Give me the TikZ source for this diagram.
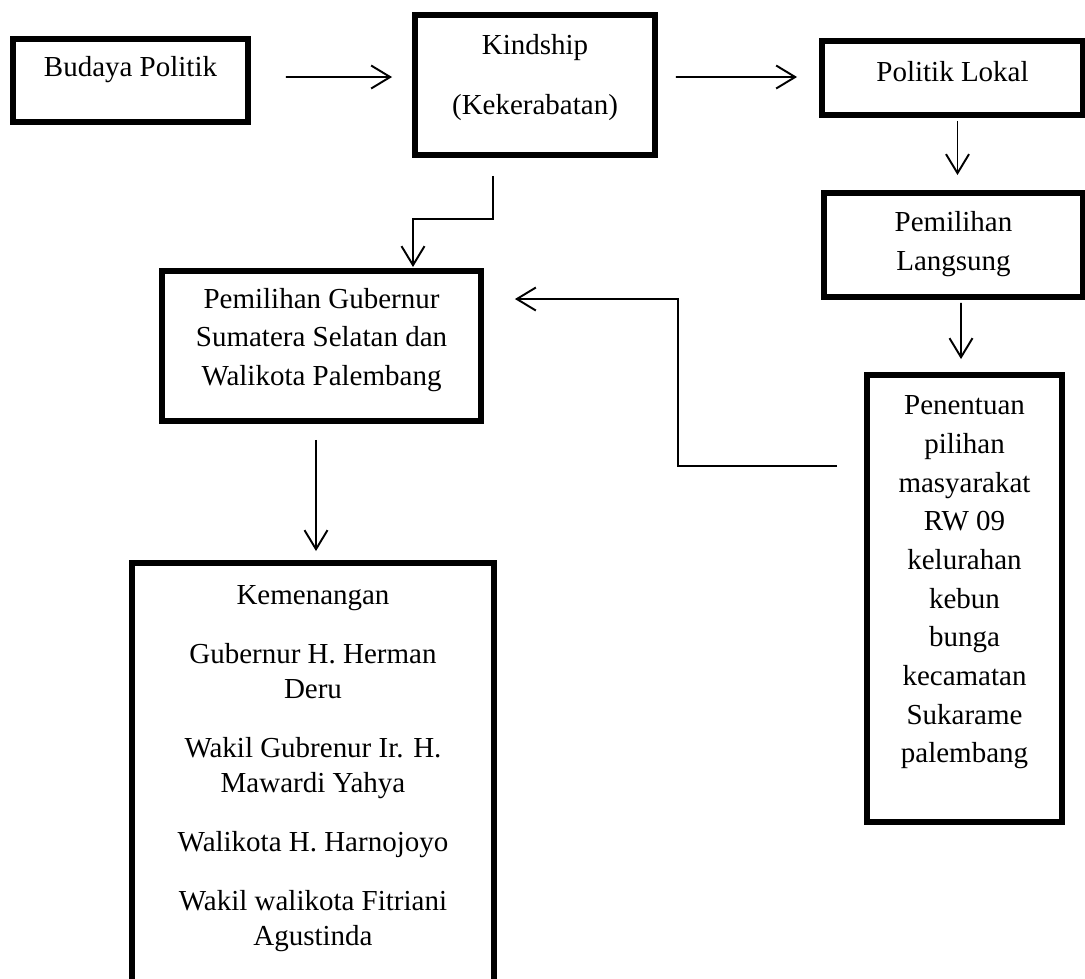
\documentclass[tikz,border=0pt]{standalone}
\usepackage{fontspec}
\setmainfont{Liberation Serif}
\usetikzlibrary{arrows.meta}

\begin{document}
\begin{tikzpicture}[x=0.02cm,y=-0.02cm,font=\fontsize{16.5}{22}\selectfont,
    frame/.style={draw,line width=3.4pt,inner sep=0pt},
    lbl/.style={align=center,inner sep=0pt},
    arr/.style={line width=1.1pt,-{Straight Barb[length=3.8mm,width=4.6mm,line width=1.1pt]}}]

        \useasboundingbox (0,0) rectangle (1085,979);

        % Boxes: frame is a node, text sits on top of it
        \node[frame,minimum width=4.7cm,minimum height=1.66cm] (budaya) at (130.5,80.5) {};
        \node[frame,minimum width=4.8cm,minimum height=2.8cm] (kin) at (535,85) {};
        \node[frame,minimum width=5.22cm,minimum height=1.48cm] (lokal) at (952.5,78) {};
        \node[frame,minimum width=5.18cm,minimum height=2.08cm] (langsung) at (953.5,245) {};
        \node[frame,minimum width=3.9cm,minimum height=8.94cm] (penentuan) at (964.5,598.5) {};
        \node[frame,minimum width=6.38cm,minimum height=3cm] (gubernur) at (321.5,346) {};
        \node[frame,minimum width=7.24cm,minimum height=8.94cm] (menang) at (313,786.5) {}; % runs off the page

        % Texts
        \node[lbl] (budaya-t) at (130.5,70) {Budaya Politik};
        \node[lbl] (kin-t) at (535,77.5) {Kindship\\[12.6pt](Kekerabatan)};
        \node[lbl] (lokal-t) at (952.5,72) {Politik Lokal};
        \node[lbl] (langsung-t) at (953.5,244) {Pemilihan\\Langsung};
        \node[lbl] (penentuan-t) at (964.5,582.5) {Penentuan\\pilihan\\masyarakat\\RW 09\\kelurahan\\kebun\\bunga\\kecamatan\\Sukarame\\palembang};
        \node[lbl] (gubernur-t) at (321.5,340) {Pemilihan Gubernur\\Sumatera Selatan dan\\Walikota Palembang};
        \node[lbl,font=\fontsize{16.5}{20}\selectfont] (menang-t) at (313,768.5) {Kemenangan\\[13.5pt]
            Gubernur H. Herman\\Deru\\[13.5pt]
            Wakil Gubrenur Ir. H.\\Mawardi Yahya\\[13.5pt]
            Walikota H. Harnojoyo\\[13.5pt]
            Wakil walikota Fitriani\\Agustinda};

        % Arrows along the top row
        \draw[arr] ([shift={(35,41)}]budaya.north east) -- ([shift={(-20,65)}]kin.north west);
        \draw[arr] ([shift={(18,65)}]kin.north east) -- ([shift={(-22,39)}]lokal.north west);

        % Right column going down
        \draw[arr] ([shift={(5,3)}]lokal.south) -- ([shift={(4,-15)}]langsung.north);
        \draw[arr] ([shift={(7.5,3)}]langsung.south) -- ([shift={(-3.5,-13)}]penentuan.north);

        % Kindship down to the election box
        \draw[arr] ([shift={(-42,18)}]kin.south) |- ([shift={(91.5,-49)}]gubernur.north)
            -- ([shift={(91.5,-1)}]gubernur.north);

        % Feedback from the voters back to the election
        \draw[arr] ([shift={(-27,94)}]penentuan.north west) -| ([shift={(194,31)}]gubernur.north east)
            -- ([shift={(31,31)}]gubernur.north east);

        % Election to result
        \draw[arr] ([shift={(-5.5,16)}]gubernur.south) -- ([shift={(3,-9)}]menang.north);
    \end{tikzpicture}
\end{document}
